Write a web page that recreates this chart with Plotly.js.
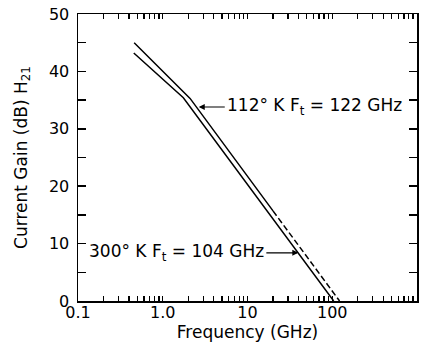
<!DOCTYPE html>
<html>
<head>
<meta charset="utf-8">
<script src="https://cdn.plot.ly/plotly-3.0.1.min.js"></script>
<style>html,body{margin:0;padding:0;background:#fff;}#chart{width:435px;height:350px;}</style>
</head>
<body>
<div id="chart"></div>
<script>
// 112 K curve (solid part, then dashed extrapolation to Ft)
const freq112Solid = [0.46, 2.1, 20];
const gain112Solid = [45.0, 35.3, 15.7];
const freq112Dash = [20, 122];
const gain112Dash = [15.7, 0];
// 300 K curve
const freq300 = [0.455, 1.75, 104];
const gain300 = [43.2, 35.4, 0];

const xMajorVals = [0.1, 1, 10, 100, 1000];
const xMajorText = ['0.1', '1.0', '10', '100', '1000'];
const xAllVals = [];
const xAllText = [];
[0.1, 1, 10, 100].forEach(function (d, i) {
  xAllVals.push(d); xAllText.push(xMajorText[i]);
  for (let k = 2; k <= 9; k++) { xAllVals.push(k * d); xAllText.push(''); }
});
xAllVals.push(1000); xAllText.push('1000');
const yTickVals = [0, 5, 10, 15, 20, 25, 30, 35, 40, 45, 50];
const yTickText = ['0', '', '10', '', '20', '', '30', '', '40', '', '50'];

const FONT = 'DejaVu Sans, Liberation Sans, Arial, sans-serif';
const lineStyle = { color: '#000', width: 1.5 };

const traces = [
  { x: freq112Solid, y: gain112Solid, mode: 'lines', line: lineStyle, name: '112 K', showlegend: false, hoverinfo: 'skip' },
  { x: freq112Dash, y: gain112Dash, mode: 'lines', line: { color: '#000', width: 1.5, dash: '6px,3px' }, name: '112 K extrapolated', showlegend: false, hoverinfo: 'skip' },
  { x: freq300, y: gain300, mode: 'lines', line: lineStyle, name: '300 K', showlegend: false, hoverinfo: 'skip' }
];

const layout = {
  width: 435, height: 350,
  margin: { l: 78, r: 18, t: 14, b: 49 },
  paper_bgcolor: '#fff', plot_bgcolor: '#fff',
  font: { family: FONT, color: '#000', size: 16 },
  showlegend: false,
  xaxis: {
    type: 'log', range: [-1, 3],
    tickmode: 'array', tickvals: xAllVals, ticktext: xAllText,
    ticks: 'inside', ticklen: 5, tickwidth: 1.3, tickcolor: '#000',
    showline: true, linecolor: '#000', linewidth: 1.5, mirror: 'allticks',
    showgrid: false, zeroline: false, layer: 'above traces',
    tickfont: { size: 16 }, ticklabelstandoff: -4,
    title: { text: 'Frequency (GHz)', font: { size: 17 }, standoff: 5 },
    automargin: false
  },
  xaxis2: {
    type: 'log', range: [-1, 3], overlaying: 'x', anchor: 'y', side: 'bottom',
    tickmode: 'array', tickvals: xMajorVals, showticklabels: false,
    ticks: 'inside', ticklen: 9, tickwidth: 1.5, tickcolor: '#000',
    showline: false, mirror: 'allticks', showgrid: false, zeroline: false,
    layer: 'above traces', automargin: false
  },
  yaxis: {
    range: [0, 50],
    tickmode: 'array', tickvals: yTickVals, ticktext: yTickText,
    ticks: 'inside', ticklen: 8, tickwidth: 1.5, tickcolor: '#000',
    showline: true, linecolor: '#000', linewidth: 1.5, mirror: 'allticks',
    showgrid: false, zeroline: false, layer: 'above traces',
    tickfont: { size: 16 }, ticklabelstandoff: 4,
    title: { text: 'Current Gain (dB) H<sub>21</sub>', font: { size: 17 }, standoff: 17 },
    automargin: false
  },
  annotations: [
    {
      x: Math.log10(2.66), y: 33.8, xref: 'x', yref: 'y',
      text: '112° K F<sub>t</sub> = 122 GHz', font: { size: 17, family: FONT, color: '#000' },
      showarrow: true, arrowhead: 2, arrowsize: 1, arrowwidth: 1.2, arrowcolor: '#000',
      ax: 26, ay: 0, xanchor: 'left', yanchor: 'middle', standoff: 0
    },
    {
      x: Math.log10(39.8), y: 8.4, xref: 'x', yref: 'y',
      text: '300° K F<sub>t</sub> = 104 GHz', font: { size: 17, family: FONT, color: '#000' },
      showarrow: true, arrowhead: 2, arrowsize: 1, arrowwidth: 1.2, arrowcolor: '#000',
      ax: -32, ay: 0, xanchor: 'right', yanchor: 'middle', standoff: 0
    }
  ]
};

Plotly.newPlot('chart', traces, layout, { staticPlot: true, displayModeBar: false });
</script>
</body>
</html>
